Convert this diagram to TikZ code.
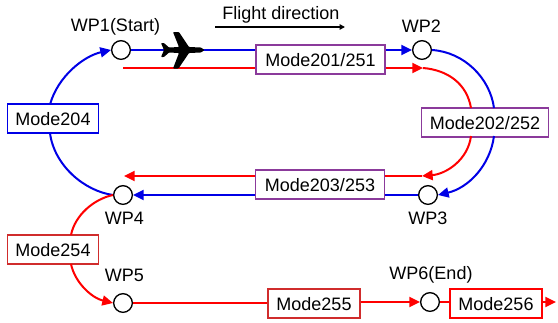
\documentclass[tikz,border=0pt]{standalone}
\usepackage{fontspec}
\setmainfont{Liberation Sans}
\usetikzlibrary{arrows.meta}
\definecolor{mpurple}{HTML}{8B3A9B}
\definecolor{mblue}{HTML}{0000E6}
\definecolor{mred}{HTML}{FF0000}
\definecolor{mdred}{HTML}{D02C2C}
\tikzset{
  modebox/.style={draw,line width=1.1pt,fill=white,inner sep=0pt,anchor=center,text height=10.7pt,text depth=0pt,font=\fontsize{13.5}{15}\selectfont},
  wp/.style={circle,draw=black,line width=1pt,fill=white,minimum size=14pt,inner sep=0pt},
  lbl/.style={font=\fontsize{13.5}{15}\selectfont,inner sep=0pt},
  bl/.style={draw=mblue,line width=1.5pt},
  rd/.style={draw=mred,line width=1.5pt},
  tipb/.style={-{Triangle[length=8pt,width=7.5pt]}},
}
\begin{document}
\begin{tikzpicture}[x=0.75pt,y=-0.75pt]
\useasboundingbox (0,0) rectangle (558,322);
% waypoints
\node[wp] (w1) at (121,50) {};
\node[wp] (w2) at (422,50) {};
\node[wp] (w3) at (428,195) {};
\node[wp] (w4) at (123,195) {};
\node[wp] (w5) at (123,303) {};
\node[wp] (w6) at (430,302) {};
% boxes
\node[modebox,draw=mblue,minimum width=68.5pt,minimum height=21.5pt] (m204) at (53,118.5) {Mode204};
\node[modebox,draw=mpurple,minimum width=96.5pt,minimum height=21.5pt] (m201) at (320.5,59.5) {Mode201/251};
\node[modebox,draw=mpurple,minimum width=95.5pt,minimum height=21.5pt] (m202) at (485,122.5) {Mode202/252};
\node[modebox,draw=mpurple,minimum width=97pt,minimum height=21.5pt] (m203) at (320,184.5) {Mode203/253};
\node[modebox,draw=mdred,minimum width=68.5pt,minimum height=21.5pt] (m254) at (53,249.5) {Mode254};
\node[modebox,draw=mdred,minimum width=69pt,minimum height=21.5pt] (m255) at (314,303.5) {Mode255};
\node[modebox,draw=mred,minimum width=69pt,minimum height=21.5pt] (m256) at (496,303.5) {Mode256};
% anchors on boxes
\coordinate (a1) at (m201.west |- 0,68);
\coordinate (r0) at (123,68);
\coordinate (a2) at (m201.east |- 0,68);
\coordinate (r1) at (423,68);
\coordinate (a3) at (471,108);
\coordinate (a4) at (471,136);
\coordinate (r2) at (422,176);
\coordinate (a5) at (m203.east |- 0,176);
\coordinate (a6) at (m203.west |- 0,176);
\coordinate (r3) at (124,176);
\coordinate (b1) at (494,108);
\coordinate (b2) at (494,136);
\coordinate (b3) at (m203.east |- w3);
\coordinate (b4) at (m203.west |- w4);
\coordinate (c1) at (50,104.5);
\coordinate (c2) at (50,133);
\coordinate (d1) at (71,235);
\coordinate (d2) at (71,264);
\coordinate (e1) at (556,302);
\coordinate (f1) at (215,27);
\coordinate (f2) at (345,27);
% blue
\draw[bl] (w1) -- (m201.west |- w1);
\draw[bl,tipb] (m201.east |- w2) -- (w2);
\draw[bl] (w2.east) .. controls (464,52) and (490,78) .. (b1);
\draw[bl,tipb] (b2) .. controls (490,166) and (468,188) .. (w3.east);
\draw[bl] (b3) -- (w3);
\draw[bl,tipb] (b4) -- (w4);
\draw[bl] (w4.west) .. controls (84,191) and (54,165) .. (c2);
\draw[bl,tipb] (c1) .. controls (58,76) and (84,56) .. (w1.west);
% red
\draw[rd] (r0) -- (a1);
\draw[rd,tipb] (a2) -- (r1);
\draw[rd] (r1) .. controls (448,70) and (467,84) .. (a3);
\draw[rd,tipb] (a4) .. controls (468,160) and (446,174) .. (r2);
\draw[rd] (r2) -- (a5);
\draw[rd,tipb] (a6) -- (r3);
\draw[rd] (w4.west) .. controls (94,199) and (75,215) .. (d1);
\draw[rd,tipb] (d2) .. controls (75,283) and (92,298) .. (w5.west);
\draw[rd] (w5) -- (m255.west |- w5);
\draw[rd,tipb] (m255.east |- w6) -- (w6);
\draw[rd] (w6) -- (m256.west |- w6);
\draw[rd,tipb] (m256.east |- e1) -- (e1);
% flight direction arrow
\draw[black,line width=1.2pt,-{Triangle[length=4pt,width=4pt]}] (f1) -- (f2);
% airplane
\fill[black,rounded corners=0.6pt]
 (204.5,50) -- (201,47.5) -- (189,47) -- (179,32) -- (173,32) -- (179,47) -- (169,47.5)
 -- (164,43) -- (161,43) -- (164,50) -- (161,57) -- (164,57) -- (169,52.5)
 -- (179,53) -- (173,68.5) -- (178.5,68.5) -- (189,53) -- (201,52.5) -- cycle;
% labels
\node[lbl] (t0) at (281,15) {Flight direction};
\node[lbl] (t1) at (115.5,27) {WP1(Start)};
\node[lbl] (t2) at (421.5,26.5) {WP2};
\node[lbl] (t3) at (428,218) {WP3};
\node[lbl] (t4) at (124.5,218) {WP4};
\node[lbl] (t5) at (124.5,275) {WP5};
\node[lbl] (t6) at (431,275) {WP6(End)};
\end{tikzpicture}
\end{document}
